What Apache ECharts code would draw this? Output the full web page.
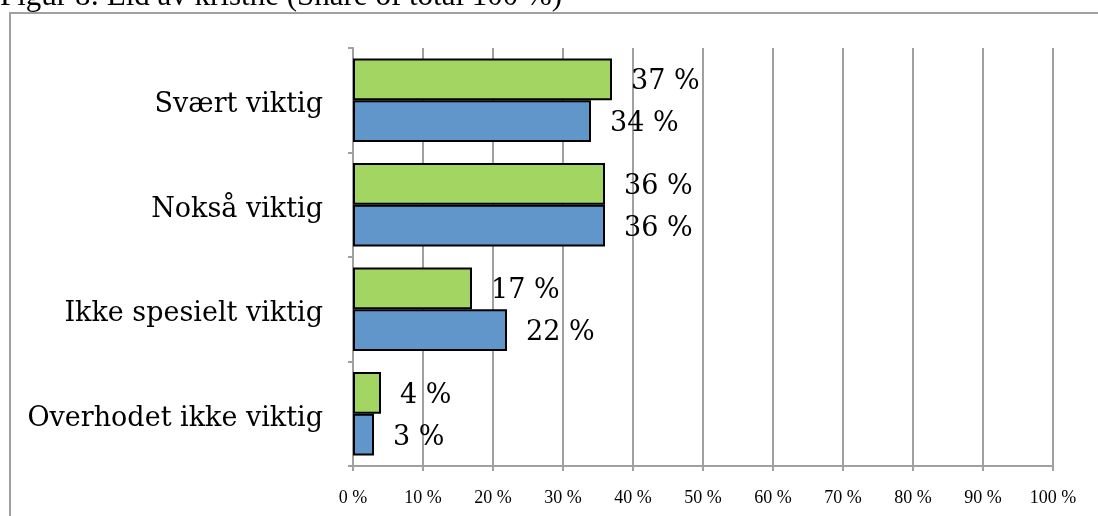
<!DOCTYPE html>
<html>
<head>
<meta charset="utf-8">
<script src="https://cdn.jsdelivr.net/npm/echarts@6/dist/echarts.min.js"></script>
<style>
  html, body { margin: 0; padding: 0; background: #fff; }
  #chart { width: 1098px; height: 516px; }
</style>
</head>
<body>
<div id="chart"></div>
<script>
// categories bottom -> top (category axis grows upward)
const categories = ['Overhodet ikke viktig', 'Ikke spesielt viktig', 'Nokså viktig', 'Svært viktig']
const greenValues = [4, 17, 36, 37]
const blueValues = [3, 22, 36, 34]
const xTicks = [0, 10, 20, 30, 40, 50, 60, 70, 80, 90, 100]

const title = 'Figur 8: Eid av kristne (Share of total 100 %)'
const gray = '#a0a0a0'
const serif = 'DejaVu Serif'

const chart = echarts.init(document.getElementById('chart'))

const labelStyle = {
  show: true,
  position: 'right',
  distance: 19,
  formatter: (p) => p.value + ' %',
  color: '#000',
  fontFamily: serif,
  fontSize: 27,
  offset: [0, 3],
}

const option = {
  animation: false,
  graphic: [
    {
      type: 'rect',
      shape: { x: 10, y: 13, width: 1200, height: 600 },
      style: { fill: 'none', stroke: gray, lineWidth: 2 },
      silent: true,
    },
    {
      type: 'text',
      x: 0,
      y: -3,
      style: {
        text: title,
        fill: '#000',
        font: '31px "Liberation Serif"',
        verticalAlign: 'middle',
      },
    },
  ],
  grid: { left: 353, top: 48, right: 45, bottom: 50, containLabel: false },
  xAxis: {
    type: 'value',
    min: xTicks[0],
    max: xTicks[xTicks.length - 1],
    interval: 10,
    axisLine: { show: true, lineStyle: { color: gray, width: 2 } },
    axisTick: { show: true, length: 5, lineStyle: { color: gray, width: 2 } },
    axisLabel: {
      formatter: '{value} %',
      color: '#000',
      fontFamily: 'Liberation Serif',
      fontSize: 18,
      margin: 23,
    },
    splitLine: { show: true, lineStyle: { color: gray, width: 2 } },
  },
  yAxis: {
    type: 'category',
    data: categories,
    axisLine: { show: true, lineStyle: { color: gray, width: 2 } },
    axisTick: { show: true, length: 5, lineStyle: { color: gray, width: 2 } },
    axisLabel: {
      margin: 30,
      formatter: '{c|{value}}',
      rich: {
        c: {
          color: '#000',
          fontFamily: serif,
          fontSize: 27,
          padding: [10, 0, 0, 0],
        },
      },
    },
  },
  series: [
    {
      name: 'green',
      type: 'bar',
      data: greenValues,
      barGap: '0%',
      barCategoryGap: '20%',
      itemStyle: { color: '#a2d562', borderColor: '#000', borderWidth: 2 },
      label: labelStyle,
    },
    {
      name: 'blue',
      type: 'bar',
      data: blueValues,
      barGap: '0%',
      barCategoryGap: '20%',
      itemStyle: { color: '#6096c9', borderColor: '#000', borderWidth: 2 },
      label: labelStyle,
    },
  ],
}

chart.setOption(option)
</script>
</body>
</html>
